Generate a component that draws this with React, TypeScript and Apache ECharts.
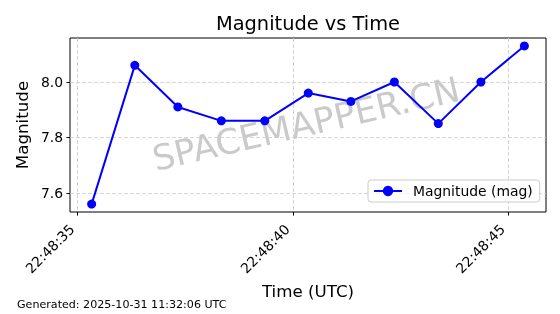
import React, { useEffect, useRef } from "react";
import * as echarts from "echarts";

const times = [
  "2025-10-30T22:48:35.327Z",
  "2025-10-30T22:48:36.330Z",
  "2025-10-30T22:48:37.330Z",
  "2025-10-30T22:48:38.340Z",
  "2025-10-30T22:48:39.350Z",
  "2025-10-30T22:48:40.360Z",
  "2025-10-30T22:48:41.350Z",
  "2025-10-30T22:48:42.360Z",
  "2025-10-30T22:48:43.380Z",
  "2025-10-30T22:48:44.370Z",
  "2025-10-30T22:48:45.380Z",
];
const magnitudes = [7.56, 8.06, 7.91, 7.86, 7.86, 7.96, 7.93, 8.0, 7.85, 8.0, 8.13];
const xTickLabels = ["22:48:35", "22:48:40", "22:48:45"];
const yTicks = [7.6, 7.8, 8.0];
const tickDate = "2025-10-30";

const FONT = "DejaVu Sans";

function fmtTime(v: number): string {
  const d = new Date(v);
  const p = (n: number) => String(n).padStart(2, "0");
  return `${p(d.getUTCHours())}:${p(d.getUTCMinutes())}:${p(d.getUTCSeconds())}`;
}

export default function App() {
  const ref = useRef<HTMLDivElement>(null);
  useEffect(() => {
    if (!ref.current) return;
    const chart = echarts.init(ref.current, undefined, { renderer: "svg" });
    const ts = times.map((t) => Date.parse(t));
    const xMinD = Math.min(...ts);
    const xMaxD = Math.max(...ts);
    const xm = (xMaxD - xMinD) * 0.05;
    const yMinD = Math.min(...magnitudes);
    const yMaxD = Math.max(...magnitudes);
    const ym = (yMaxD - yMinD) * 0.05;
    const xTickVals = xTickLabels.map((l) => Date.parse(`${tickDate}T${l}Z`));

    chart.setOption({
      animation: false,
      textStyle: { fontFamily: FONT },
      grid: {
        left: 70,
        top: 38,
        right: 14,
        bottom: 102,
        show: true,
        borderColor: "#000",
        borderWidth: 1,
        backgroundColor: "transparent",
        outerBoundsMode: "none",
      },
      xAxis: {
        type: "value",
        min: xMinD - xm,
        max: xMaxD + xm,
        name: "Time (UTC)",
        nameLocation: "middle",
        nameGap: 66,
        nameTextStyle: { fontSize: 16.7, color: "#000", fontFamily: FONT },
        axisLine: { show: false },
        axisTick: {
          show: true,
          length: 3.5,
          lineStyle: { color: "#000", width: 1 },
          customValues: xTickVals,
        },
        axisLabel: {
          customValues: xTickVals,
          rotate: 45,
          margin: 9,
          padding: [0, 8, 0, 0],
          fontSize: 13.9,
          color: "#000",
          fontFamily: FONT,
          formatter: (v: number) => fmtTime(v),
        },
        splitLine: {
          show: true,
          lineStyle: { color: "#cccccc", type: [4, 2], width: 0.8 },
        },
      },
      yAxis: {
        type: "value",
        min: yMinD - ym,
        max: yMaxD + ym,
        name: "Magnitude",
        nameLocation: "middle",
        nameRotate: 90,
        nameGap: 34,
        nameTextStyle: { fontSize: 16.7, color: "#000", fontFamily: FONT },
        axisLine: { show: false },
        axisTick: {
          show: true,
          length: 3.5,
          lineStyle: { color: "#000", width: 1 },
          customValues: yTicks,
        },
        axisLabel: {
          customValues: yTicks,
          margin: 7,
          fontSize: 13.9,
          color: "#000",
          fontFamily: FONT,
          formatter: (v: number) => v.toFixed(1),
        },
        splitLine: {
          show: true,
          lineStyle: { color: "#cccccc", type: [4, 2], width: 0.8 },
        },
      },
      legend: {
        left: 368,
        top: 180,
        padding: [4, 7, 4, 5],
        itemWidth: 28,
        itemHeight: 13,
        itemGap: 0,
        backgroundColor: "rgba(255,255,255,0.8)",
        borderColor: "#cccccc",
        borderWidth: 1,
        borderRadius: 3,
        textStyle: {
          fontSize: 13.9,
          color: "#000",
          fontFamily: FONT,
          padding: [0, 0, 0, 6],
        },
        data: ["Magnitude (mag)"],
      },
      graphic: [
        {
          type: "text",
          x: 308,
          y: 23,
          z: 10,
          style: {
            text: "Magnitude vs Time",
            fontSize: 19.4,
            fontFamily: FONT,
            fill: "#000",
            textAlign: "center",
            textVerticalAlign: "middle",
          },
        },
        {
          type: "text",
          x: 306,
          y: 124,
          z: 0,
          rotation: (13 * Math.PI) / 180,
          style: {
            text: "SPACEMAPPER.CN",
            fontSize: 35,
            fontFamily: FONT,
            fill: "rgba(128,128,128,0.42)",
            textAlign: "center",
            textVerticalAlign: "middle",
          },
        },
        {
          type: "text",
          left: 17,
          top: 299,
          style: {
            text: "Generated: 2025-10-31 11:32:06 UTC",
            fontSize: 11.1,
            fontFamily: FONT,
            fill: "#000",
          },
        },
      ],
      series: [
        {
          name: "Magnitude (mag)",
          type: "line",
          data: ts.map((t, i) => [t, magnitudes[i]]),
          symbol: "circle",
          symbolSize: 9,
          lineStyle: { color: "#0000ff", width: 2 },
          itemStyle: { color: "#0000ff" },
          z: 3,
        },
      ],
    });
    return () => chart.dispose();
  }, []);
  return (
    <div
      ref={ref}
      style={{ position: "fixed", left: 0, top: 0, width: 560, height: 314 }}
    />
  );
}
